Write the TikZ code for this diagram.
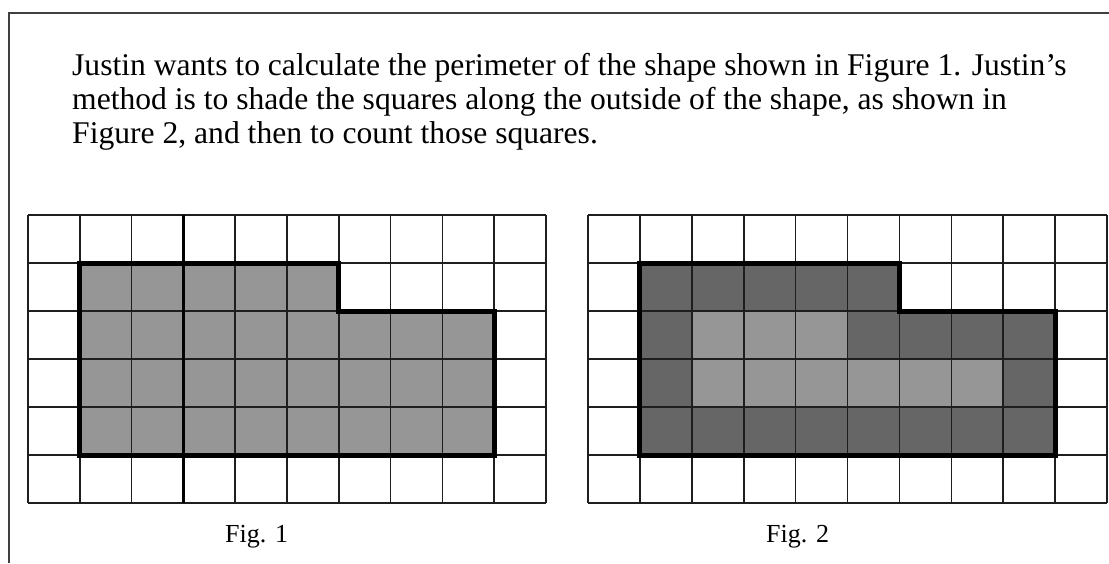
\documentclass[tikz,border=0pt]{standalone}
\usepackage{fontspec}
\setmainfont{Liberation Serif}
\definecolor{lightcell}{HTML}{969696}
\definecolor{darkcell}{HTML}{666666}
\definecolor{gridcol}{HTML}{1E1E1E}
\definecolor{framecol}{HTML}{404040}
\begin{document}
\begin{tikzpicture}[x=1pt,y=-1pt,
  gridline/.style={draw=gridcol,line width=1.6pt},
  outline/.style={draw=black,line width=5pt,line join=miter},
  divider/.style={draw=black,line width=3.5pt},
  bodytext/.style={anchor=base west,inner sep=0pt,font=\fontsize{31.6}{34}\selectfont},
  figlabel/.style={anchor=base west,inner sep=0pt,font=\fontsize{26}{30}\selectfont}]
\useasboundingbox (0,0) rectangle (1109,563);
\fill[white] (0,0) rectangle (1109,563);
% frame
\draw[draw=framecol,line width=1.5pt] (9,563) -- (9,13) -- (1109,13);
% text
\node[bodytext] (l1) at (72,75) {Justin wants to calculate the perimeter of the shape shown in Figure 1. Justin’s};
\node[bodytext] (l2) at (72,109) {method is to shade the squares along the outside of the shape, as shown in};
\node[bodytext] (l3) at (72,143) {Figure 2, and then to count those squares.};
% Figure 1
\begin{scope}[shift={(28,215)},x=51.8pt,y=-48pt]
  \fill[lightcell] (1,1) rectangle (6,2);
  \fill[lightcell] (1,2) rectangle (9,5);
  \foreach \i in {0,...,10} \draw[gridline] (\i,0) -- (\i,6);
  \foreach \j in {0,...,6} \draw[gridline] (0,\j) -- (10,\j);
  \draw[divider] (3,0) -- (3,6);
  \draw[outline] (1,1) -- (6,1) -- (6,2) -- (9,2) -- (9,5) -- (1,5) -- cycle;
\end{scope}
% Figure 2
\begin{scope}[shift={(588,215)},x=51.9pt,y=-48pt]
  \fill[darkcell] (1,1) rectangle (6,2);
  \fill[darkcell] (1,2) rectangle (2,5);
  \fill[darkcell] (1,4) rectangle (9,5);
  \fill[darkcell] (5,2) rectangle (9,3);
  \fill[darkcell] (8,3) rectangle (9,4);
  \fill[lightcell] (2,2) rectangle (5,3);
  \fill[lightcell] (2,3) rectangle (8,4);
  \foreach \i in {0,...,10} \draw[gridline] (\i,0) -- (\i,6);
  \foreach \j in {0,...,6} \draw[gridline] (0,\j) -- (10,\j);
  \draw[outline] (1,1) -- (6,1) -- (6,2) -- (9,2) -- (9,5) -- (1,5) -- cycle;
\end{scope}
\node[figlabel] (f1) at (225,542) {Fig.\,\,1};
\node[figlabel] (f2) at (766,542) {Fig.\,\,2};
\end{tikzpicture}
\end{document}
